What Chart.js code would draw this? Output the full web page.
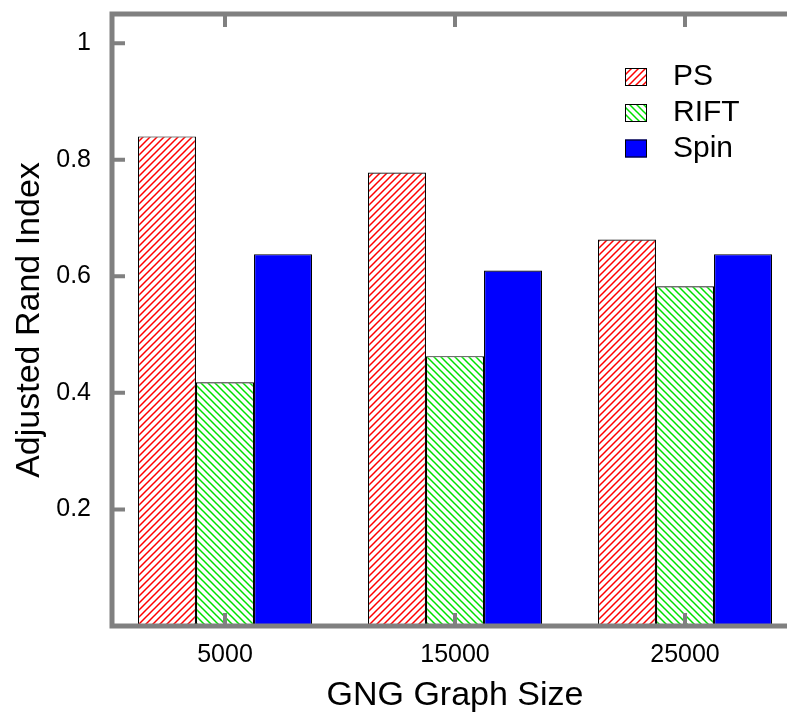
<!DOCTYPE html>
<html>
<head>
<meta charset="utf-8">
<script src="https://cdn.jsdelivr.net/npm/chart.js@4/dist/chart.umd.min.js"></script>
<style>
  html, body { margin: 0; padding: 0; background: #fff; overflow: hidden; }
  #wrap { width: 805px; height: 719px; }
</style>
</head>
<body>
<div id="wrap"><canvas id="chart" width="805" height="719"></canvas></div>
<script>
// ============================
// DATA
// ============================

const categories = ["5000", "15000", "25000"];
const seriesNames = ["PS", "RIFT", "Spin"];
const psValues = [0.840, 0.778, 0.663];
const riftValues = [0.418, 0.463, 0.583];
const spinValues = [0.638, 0.610, 0.638];
const yTicks = [0.2, 0.4, 0.6, 0.8, 1];

const FONT = "'Liberation Sans', Arial, sans-serif";
const AXIS_GREY = "#808080";

// ============================
// HATCH PATTERNS
// ============================

function makeHatch(color, forward) {
  const s = 7;
  const c = document.createElement("canvas");
  c.width = s;
  c.height = s;
  const g = c.getContext("2d");
  g.fillStyle = "#fff";
  g.fillRect(0, 0, s, s);
  g.strokeStyle = color;
  g.lineWidth = 1.5;
  g.beginPath();
  if (forward) {
    g.moveTo(-1, s + 1); g.lineTo(s + 1, -1);
    g.moveTo(-1, 1); g.lineTo(1, -1);
    g.moveTo(s - 1, s + 1); g.lineTo(s + 1, s - 1);
  } else {
    g.moveTo(-1, -1); g.lineTo(s + 1, s + 1);
    g.moveTo(s - 1, -1); g.lineTo(s + 1, 1);
    g.moveTo(-1, s - 1); g.lineTo(1, s + 1);
  }
  g.stroke();
  return g.createPattern(c, "repeat");
}

const psFill = makeHatch("#ff0000", true);
const riftFill = makeHatch("#00e000", false);
const spinFill = "#0000ff";

// ============================
// PLUGINS
// ============================

// frame with inward ticks, drawn over the bars
const framePlugin = {
  id: "framePlugin",
  afterDatasetsDraw(chart) {
    const { ctx, chartArea: a, scales } = chart;
    const tl = 13;
    const left = a.left + 2;
    ctx.save();
    ctx.strokeStyle = AXIS_GREY;
    ctx.lineWidth = 5;
    ctx.lineCap = "square";
    ctx.strokeRect(left, a.top, a.right - left, a.bottom - a.top);

    ctx.lineWidth = 4;
    ctx.lineCap = "butt";
    ctx.beginPath();
    categories.forEach((c, i) => {
      const x = scales.x.getPixelForTick(i);
      ctx.moveTo(x, a.bottom); ctx.lineTo(x, a.bottom - tl);
      ctx.moveTo(x, a.top); ctx.lineTo(x, a.top + tl);
    });
    yTicks.forEach(v => {
      const y = scales.y.getPixelForValue(v);
      ctx.moveTo(left, y); ctx.lineTo(left + tl, y);
      ctx.moveTo(a.right, y); ctx.lineTo(a.right - tl, y);
    });
    ctx.stroke();
    ctx.restore();
  }
};

// legend inside the plot, top right
const boxLegendPlugin = {
  id: "boxLegendPlugin",
  afterDraw(chart) {
    const ctx = chart.ctx;
    const rows = [77, 113, 148.5];
    ctx.save();
    chart.data.datasets.forEach((ds, i) => {
      const cy = rows[i];
      ctx.fillStyle = ds.backgroundColor;
      ctx.fillRect(625, cy - 9, 22, 18);
      ctx.strokeStyle = "#000";
      ctx.lineWidth = 1;
      ctx.strokeRect(625.5, cy - 8.5, 21, 17);
      ctx.fillStyle = "#000";
      ctx.font = "30px " + FONT;
      ctx.textBaseline = "middle";
      ctx.textAlign = "left";
      ctx.fillText(ds.label, 673, cy);
    });
    ctx.restore();
  }
};

// ============================
// CHART
// ============================

new Chart(document.getElementById("chart"), {
  type: "bar",
  data: {
    labels: categories,
    datasets: [
      { label: seriesNames[0], data: psValues, backgroundColor: psFill },
      { label: seriesNames[1], data: riftValues, backgroundColor: riftFill },
      { label: seriesNames[2], data: spinValues, backgroundColor: spinFill }
    ]
  },
  options: {
    responsive: false,
    devicePixelRatio: 1,
    animation: false,
    layout: { padding: { left: 0, top: 14, right: 5, bottom: 0 } },
    datasets: {
      bar: {
        categoryPercentage: 0.757,
        barPercentage: 1,
        borderColor: "#000",
        borderWidth: 1.2
      }
    },
    plugins: {
      legend: { display: false },
      tooltip: { enabled: false }
    },
    scales: {
      x: {
        offset: true,
        grid: { display: false },
        border: { display: false },
        ticks: {
          color: "#000",
          font: { family: FONT, size: 25 },
          padding: 6,
          maxRotation: 0
        },
        title: {
          display: true,
          text: "GNG Graph Size",
          color: "#000",
          font: { family: FONT, size: 34 },
          padding: { top: 0, bottom: 3 }
        },
        afterFit(scale) {
          scale.height = 93;
          scale.paddingLeft = 0;
          scale.paddingRight = 0;
        }
      },
      y: {
        min: 0,
        max: 1.05,
        grid: { display: false },
        border: { display: false },
        afterBuildTicks(scale) {
          scale.ticks = yTicks.map(v => ({ value: v }));
        },
        ticks: {
          color: "#000",
          font: { family: FONT, size: 25 },
          padding: 11,
          callback: v => String(parseFloat(v.toFixed(1)))
        },
        title: {
          display: true,
          text: "Adjusted Rand Index",
          color: "#000",
          font: { family: FONT, size: 34 },
          padding: { top: 9, bottom: 0 }
        },
        afterFit(scale) {
          scale.width = 110;
          scale.paddingTop = 0;
          scale.paddingBottom = 0;
        }
      }
    }
  },
  plugins: [framePlugin, boxLegendPlugin]
});
</script>
</body>
</html>
